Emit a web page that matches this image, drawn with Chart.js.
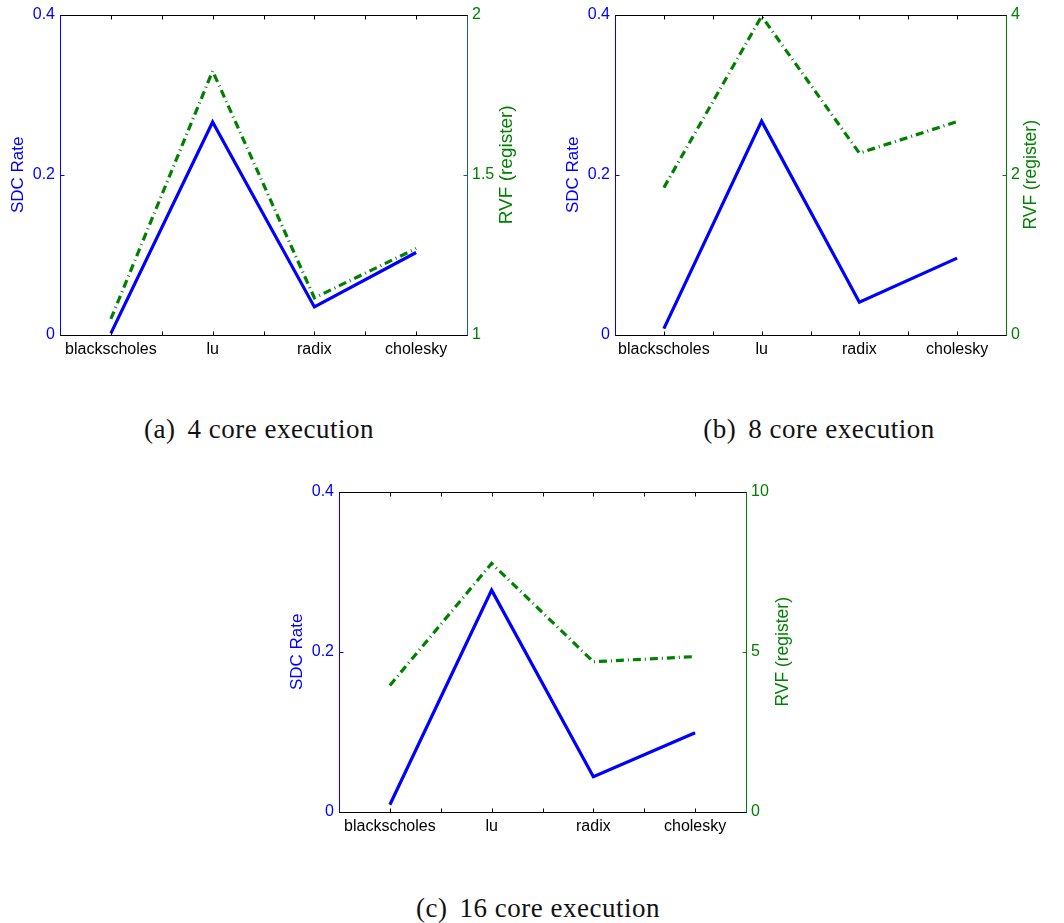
<!DOCTYPE html>
<html>
<head>
<meta charset="utf-8">
<script src="https://cdn.jsdelivr.net/npm/chart.js@4.4.1/dist/chart.umd.min.js"></script>
<style>
  html, body { margin: 0; padding: 0; background: #ffffff; }
  body { width: 1064px; height: 923px; position: relative; overflow: hidden; }
  canvas { position: absolute; }
  .cap { position: absolute; font-family: "Liberation Serif", serif; font-size: 27px; letter-spacing: 0.5px; line-height: 30px; height: 30px; color: #111; white-space: nowrap; transform: translateX(-50%); }
  .cap .g { margin-left: 12px; }
</style>
</head>
<body>
<canvas id="ca" width="540" height="375" style="left:0px;top:0px"></canvas>
<canvas id="cb" width="509" height="375" style="left:555px;top:0px"></canvas>
<canvas id="cc" width="520" height="375" style="left:280px;top:477px"></canvas>
<div class="cap" style="left:259px;top:414px">(a)<span class="g">4 core execution</span></div>
<div class="cap" style="left:819px;top:414px">(b)<span class="g">8 core execution</span></div>
<div class="cap" style="left:538px;top:893px">(c)<span class="g">16 core execution</span></div>
<script>
// ---------- data ----------
const categories = ['blackscholes', 'lu', 'radix', 'cholesky'];

const sdc4  = [0.002, 0.266, 0.035, 0.103];
const rvf4  = [1.05, 1.824, 1.116, 1.27];

const sdc8  = [0.008, 0.267, 0.041, 0.096];
const rvf8  = [1.84, 3.98, 2.27, 2.665];

const sdc16 = [0.009, 0.277, 0.044, 0.099];
const rvf16 = [3.95, 7.76, 4.69, 4.85];

const sdcTicks = [0, 0.2, 0.4];
const rvfTicks4 = [1, 1.5, 2];
const rvfTicks8 = [0, 2, 4];
const rvfTicks16 = [0, 5, 10];

const leftTitle = 'SDC Rate';
const rightTitle = 'RVF (register)';

// ---------- style ----------
const BLUE = '#0000ff';
const GREEN = '#008000';
const SANS = '"Liberation Sans", Arial, sans-serif';

function pts(arr) { return arr.map((v, i) => ({ x: i + 1, y: v })); }

const axesBox = {
  id: 'axesBox',
  afterDraw(chart, args, o) {
    const { ctx, chartArea: a, scales } = chart;
    const L = Math.round(a.left) + 0.5, R = Math.round(a.right) + 0.5;
    const T = Math.round(a.top) + 0.5, B = Math.round(a.bottom) + 0.5;
    const line = (x1, y1, x2, y2, c) => { ctx.strokeStyle = c; ctx.beginPath(); ctx.moveTo(x1, y1); ctx.lineTo(x2, y2); ctx.stroke(); };
    ctx.save();
    ctx.lineWidth = 1;
    const tl = 4;
    scales.x.ticks.forEach(t => {
      const px = Math.round(scales.x.getPixelForValue(t.value)) + 0.5;
      line(px, B, px, B - tl, '#000');
      line(px, T, px, T + tl, '#000');
    });
    scales.y.ticks.forEach(t => {
      const py = Math.round(scales.y.getPixelForValue(t.value)) + 0.5;
      line(L, py, L + tl, py, BLUE);
    });
    scales.y1.ticks.forEach(t => {
      const py = Math.round(scales.y1.getPixelForValue(t.value)) + 0.5;
      line(R, py, R - tl, py, o.rightAxisColor);
    });
    line(L - 0.5, T, R + 0.5, T, '#000');
    line(L - 0.5, B, R + 0.5, B, '#000');
    line(L, T, L, B, BLUE);
    line(R, T, R, B, o.rightAxisColor);
    // axis titles (both read bottom-to-top)
    ctx.textAlign = 'center';
    ctx.textBaseline = 'middle';
    const cy = (a.top + a.bottom) / 2;
    ctx.save();
    ctx.font = '17px ' + SANS;
    ctx.translate(a.left - o.leftOffset, cy);
    ctx.rotate(-Math.PI / 2);
    ctx.fillStyle = BLUE;
    ctx.fillText(leftTitle, 0, 0);
    ctx.restore();
    ctx.save();
    ctx.font = (o.rightSize || 17) + 'px ' + SANS;
    ctx.translate(a.right + o.rightOffset, cy + (o.rightDy || 0));
    ctx.rotate(-Math.PI / 2);
    ctx.fillStyle = GREEN;
    ctx.fillText(rightTitle, 0, 0);
    ctx.restore();
    ctx.restore();
  }
};

function makeChart(id, sdc, rvf, rvfTicks, geo) {
  const rmin = rvfTicks[0], rmax = rvfTicks[rvfTicks.length - 1];
  return new Chart(document.getElementById(id), {
    type: 'line',
    data: {
      datasets: [
        { label: leftTitle, data: pts(sdc), yAxisID: 'y', borderColor: BLUE, borderWidth: 3.2,
          pointRadius: 0, tension: 0, borderJoinStyle: 'miter', borderCapStyle: 'butt', order: 2, clip: false },
        { label: rightTitle, data: pts(rvf), yAxisID: 'y1', borderColor: GREEN, borderWidth: 3.2,
          borderDash: [8, 4, 1, 4], pointRadius: 0, tension: 0, borderJoinStyle: 'miter', borderCapStyle: 'butt', order: 1, clip: false }
      ]
    },
    options: {
      responsive: false,
      animation: false,
      devicePixelRatio: 1,
      layout: { padding: { top: geo.top, left: 0, right: 0, bottom: 0 } },
      plugins: {
        legend: { display: false },
        tooltip: { enabled: false },
        axesBox: { rightAxisColor: geo.rightColor, leftOffset: 42, rightOffset: geo.rightOffset, rightDy: geo.rightDy, rightSize: geo.rightSize }
      },
      scales: {
        x: {
          type: 'linear', min: 0.5, max: 4.5,
          grid: { display: false, drawTicks: false }, border: { display: false },
          afterFit(s) { s.height = geo.xh; },
          afterBuildTicks(s) { const t = []; for (let v = 0.5; v <= 4.5001; v += 0.5) t.push({ value: v }); s.ticks = t; },
          ticks: {
            autoSkip: false, maxRotation: 0, minRotation: 0, padding: 5,
            color: '#000', font: { family: SANS, size: 16 },
            callback: (v) => Number.isInteger(v) ? categories[v - 1] : ''
          }
        },
        y: {
          position: 'left', min: sdcTicks[0], max: sdcTicks[sdcTicks.length - 1],
          grid: { display: false, drawTicks: false }, border: { display: false },
          afterFit(s) { s.width = geo.yl; },
          afterBuildTicks(s) { s.ticks = sdcTicks.map(v => ({ value: v })); },
          ticks: { padding: 5, color: BLUE, font: { family: SANS, size: 16 }, callback: v => String(v) }
        },
        y1: {
          position: 'right', min: rmin, max: rmax,
          grid: { display: false, drawTicks: false }, border: { display: false },
          afterFit(s) { s.width = geo.yr; },
          afterBuildTicks(s) { s.ticks = rvfTicks.map(v => ({ value: v })); },
          ticks: { padding: 5, color: GREEN, font: { family: SANS, size: 16 }, callback: v => String(v) }
        }
      }
    },
    plugins: [axesBox]
  });
}

makeChart('ca', sdc4, rvf4, rvfTicks4, { top: 13, xh: 40, yl: 60, yr: 73, rightColor: '#1e5c78', rightOffset: 40, rightDy: -10, rightSize: 19 });
makeChart('cb', sdc8, rvf8, rvfTicks8, { top: 13, xh: 40, yl: 60, yr: 58, rightColor: GREEN, rightOffset: 25, rightDy: 0, rightSize: 17.5 });
makeChart('cc', sdc16, rvf16, rvfTicks16, { top: 13, xh: 40, yl: 59, yr: 54, rightColor: GREEN, rightOffset: 37, rightDy: 0, rightSize: 17.5 });
</script>
</body>
</html>
